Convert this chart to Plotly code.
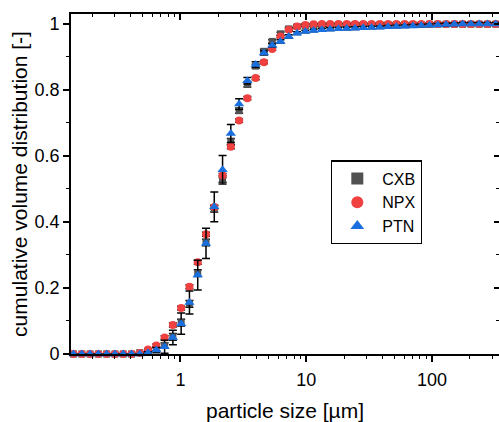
import plotly.graph_objects as go

# particle size grid [µm]
size_um = [0.1413, 0.1644, 0.1913, 0.2227, 0.2591, 0.3015, 0.3508, 0.4081, 0.4749, 0.5526,
           0.643, 0.7482, 0.8706, 1.013, 1.179, 1.372, 1.596, 1.857, 2.161, 2.514,
           2.926, 3.404, 3.961, 4.609, 5.363, 6.240, 7.261, 8.449, 9.831, 11.44,
           13.31, 15.49, 18.02, 20.97, 24.40, 28.39, 33.04, 38.44, 44.73, 52.05,
           60.56, 70.47, 82.00, 95.41, 111.0, 129.2, 150.3, 174.9, 203.5, 236.8,
           275.5, 320.6]

cxb = [0, 0, 0, 0, 0, 0, 0, 0, 0.004, 0.006,
       0.015, 0.026, 0.052, 0.095, 0.152, 0.245, 0.338, 0.44, 0.53, 0.643,
       0.737, 0.817, 0.872, 0.917, 0.947, 0.970, 0.985, 0.992, 0.995, 0.996,
       0.996, 0.996, 0.997, 0.997, 0.997, 0.997, 0.997, 0.998, 0.998, 0.998,
       0.998, 0.998, 0.998, 0.999, 0.999, 0.999, 0.999, 0.999, 0.999, 0.999,
       0.999, 0.999]
cxb_err = [0, 0, 0, 0, 0, 0, 0, 0, 0.002, 0.003,
           0.005, 0.008, 0.01, 0.01, 0.01, 0.01, 0.01, 0.01, 0.01, 0.01,
           0.008, 0.008, 0.006, 0.006, 0.005, 0.005, 0.005, 0.004, 0.004, 0.004,
           0.004, 0.004, 0.004, 0.004, 0.004, 0.004, 0.004, 0.004, 0.004, 0.004,
           0.004, 0.004, 0.004, 0.004, 0.004, 0.004, 0.004, 0.004, 0.004, 0.004,
           0.004, 0.004]

npx = [0, 0, 0, 0, 0, 0, 0, 0, 0.003, 0.014,
       0.026, 0.050, 0.088, 0.139, 0.204, 0.278, 0.363, 0.445, 0.541, 0.628,
       0.707, 0.775, 0.836, 0.884, 0.924, 0.962, 0.982, 0.992, 0.997, 0.999,
       1.0, 1.0, 1.0, 1.0, 1.0, 1.0, 1.0, 1.0, 1.0, 1.0,
       1.0, 1.0, 1.0, 1.0, 1.0, 1.0, 1.0, 1.0, 1.0, 1.0,
       1.0, 1.0]
npx_err = [0, 0, 0, 0, 0, 0, 0, 0, 0.002, 0.003,
           0.004, 0.005, 0.006, 0.006, 0.006, 0.006, 0.006, 0.006, 0.006, 0.006,
           0.005, 0.005, 0.005, 0.005, 0.004, 0.004, 0.004, 0.003, 0.003, 0.002,
           0.002, 0.002, 0.002, 0.002, 0.002, 0.002, 0.002, 0.002, 0.002, 0.002,
           0.002, 0.002, 0.002, 0.002, 0.002, 0.002, 0.002, 0.002, 0.002, 0.002,
           0.002, 0.002]

ptn = [0, 0, 0, 0, 0, 0, 0, 0, 0, 0.004,
       0.012, 0.022, 0.050, 0.092, 0.156, 0.239, 0.335, 0.446, 0.558, 0.668,
       0.757, 0.828, 0.877, 0.912, 0.935, 0.947, 0.962, 0.972, 0.977, 0.980,
       0.982, 0.984, 0.985, 0.986, 0.987, 0.988, 0.989, 0.990, 0.991, 0.992,
       0.993, 0.994, 0.995, 0.996, 0.997, 0.998, 0.999, 1.0, 1.0, 1.0,
       1.0, 1.0]
ptn_err = [0, 0, 0, 0, 0, 0, 0, 0, 0, 0.003,
           0.008, 0.02, 0.022, 0.032, 0.035, 0.045, 0.046, 0.045, 0.043, 0.027,
           0.016, 0.01, 0.008, 0.006, 0.005, 0.005, 0.005, 0.004, 0.004, 0.004,
           0.004, 0.004, 0.004, 0.004, 0.004, 0.004, 0.004, 0.004, 0.004, 0.004,
           0.004, 0.004, 0.004, 0.004, 0.004, 0.004, 0.004, 0.004, 0.004, 0.004,
           0.004, 0.004]

x_major = [1, 10, 100]
x_major_text = ["1", "10", "100"]
x_minor = [0.2, 0.3, 0.4, 0.5, 0.6, 0.7, 0.8, 0.9,
           2, 3, 4, 5, 6, 7, 8, 9,
           20, 30, 40, 50, 60, 70, 80, 90,
           200, 300]
y_major = [0, 0.2, 0.4, 0.6, 0.8, 1.0]
y_major_text = ["0", "0.2", "0.4", "0.6", "0.8", "1"]
y_minor = [0.1, 0.3, 0.5, 0.7, 0.9]

FONT = "Liberation Sans, Arial, sans-serif"
X_RANGE = [-0.870, 2.532]
Y_RANGE = [0, 1.03]

fig = go.Figure()

series = [
    ("CXB", cxb, cxb_err, "#515151", "square", 7),
    ("NPX", npx, npx_err, "#F14040", "circle", 8),
    ("PTN", ptn, ptn_err, "#1A6FDF", "triangle-up", 9),
]
for name, vals, errs, col, sym, sz in series:
    fig.add_trace(go.Scatter(
        x=size_um, y=vals, name=name, mode="markers",
        marker=dict(symbol=sym, size=sz, color=col, line=dict(width=0)),
        error_y=dict(type="data", array=errs, visible=True, color="black",
                     thickness=1.5, width=4),
        cliponaxis=False,
    ))

# empty trace so the mirrored (top/right) axes exist
fig.add_trace(go.Scatter(x=[], y=[], xaxis="x2", yaxis="y2", showlegend=False,
                         hoverinfo="skip"))

fig.update_layout(
    width=499, height=422,
    margin=dict(l=71, r=0, t=14, b=64),
    paper_bgcolor="white", plot_bgcolor="white",
    font=dict(family=FONT, color="black", size=18),
    showlegend=True,
    legend=dict(
        x=0.6075, y=0.57, xanchor="left", yanchor="top",
        bordercolor="black", borderwidth=1.3, bgcolor="white",
        font=dict(family=FONT, size=16, color="black"),
        itemsizing="constant", tracegroupgap=0, itemwidth=40,
    ),
    xaxis=dict(
        type="log", range=X_RANGE, showgrid=False, zeroline=False,
        showline=True, linecolor="black", linewidth=1.6,
        ticks="outside", ticklen=6, tickwidth=1.5, tickcolor="black",
        tickvals=x_major, ticktext=x_major_text,
        tickfont=dict(family=FONT, size=18), ticklabelstandoff=3,
        minor=dict(ticks="outside", ticklen=3, tickwidth=1.2, tickcolor="black",
                   tickvals=x_minor, showgrid=False),
        title=dict(text="particle size [µm]", font=dict(family=FONT, size=21),
                   standoff=17),
    ),
    yaxis=dict(
        range=Y_RANGE, showgrid=False, zeroline=False,
        showline=True, linecolor="black", linewidth=1.6,
        ticks="outside", ticklen=6, tickwidth=1.5, tickcolor="black",
        tickvals=y_major, ticktext=y_major_text,
        tickfont=dict(family=FONT, size=18),
        minor=dict(ticks="outside", ticklen=3, tickwidth=1.2, tickcolor="black",
                   tickvals=y_minor, showgrid=False),
        title=dict(text="cumulative volume distribution [-]",
                   font=dict(family=FONT, size=21), standoff=1),
    ),
    xaxis2=dict(
        type="log", range=X_RANGE, overlaying="x", side="top", anchor="y2",
        showgrid=False, zeroline=False, showline=True, linecolor="black",
        linewidth=1.6, ticks="inside", ticklen=6, tickwidth=1.5, tickcolor="black",
        tickvals=x_major, showticklabels=False,
        minor=dict(ticks="inside", ticklen=3, tickwidth=1.2, tickcolor="black",
                   tickvals=x_minor, showgrid=False),
    ),
    yaxis2=dict(
        range=Y_RANGE, overlaying="y", side="right", anchor="x2",
        showgrid=False, zeroline=False, showline=False,
        ticks="inside", ticklen=5, tickwidth=1.5, tickcolor="black",
        tickvals=y_major, showticklabels=False,
        minor=dict(ticks="inside", ticklen=3, tickwidth=1.2, tickcolor="black",
                   tickvals=y_minor, showgrid=False),
    ),
)

fig.write_html(
    "out.html",
    config={"displayModeBar": False},
    post_script="document.body.style.margin='0';document.body.style.overflow='hidden';",
)
